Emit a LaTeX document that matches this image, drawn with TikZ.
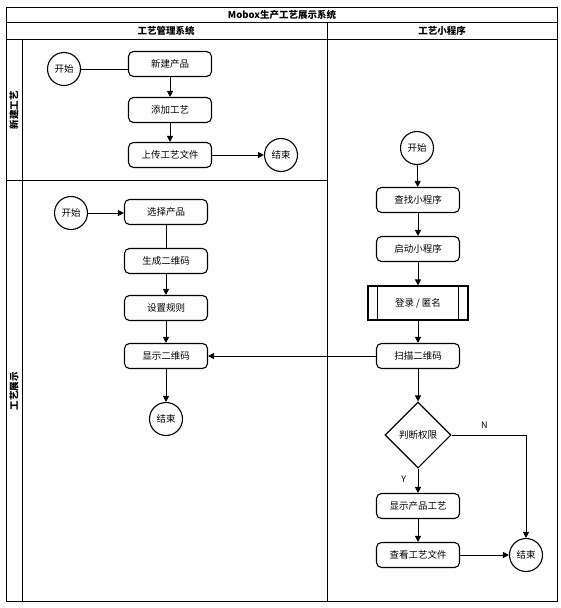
\documentclass[tikz,border=0pt]{standalone}
\usepackage{fontspec}
\setmainfont{Noto Sans CJK SC}
\usetikzlibrary{arrows.meta,shapes.geometric}
\begin{document}
\begin{tikzpicture}[x=1pt,y=-1pt,
  box/.style={draw,rounded corners=5pt,line width=1.1pt,minimum width=83pt,minimum height=25pt,inner sep=0pt,font=\fontsize{9.5}{10}\selectfont},
  term/.style={draw,circle,line width=1.1pt,minimum size=33pt,inner sep=0pt,font=\fontsize{9.5}{10}\selectfont},
  arr/.style={-{Triangle[length=6pt,width=6pt]},line width=0.8pt},
  lane/.style={line width=0.8pt},
  head/.style={font=\bfseries\fontsize{9.5}{10}\selectfont}]
\useasboundingbox (0,0) rectangle (561,608);
% swimlanes
\draw[lane] (6,7) rectangle (557,601);
\draw[lane] (6,22) -- (557,22);
\draw[lane] (6,39) -- (557,39);
\draw[lane] (327,22) -- (327,601);
\draw[lane] (22,39) -- (22,601);
\draw[lane] (6,180) -- (327,180);
\node[head] (title) at (282,15) {Mobox生产工艺展示系统};
\node[head] (laneA) at (166,31) {工艺管理系统};
\node[head] (laneB) at (442,31) {工艺小程序};
\node[head,rotate=90] (rowA) at (14,110) {新建工艺};
\node[head,rotate=90] (rowB) at (14,391) {工艺展示};
% new process
\node[term] (startA) at (64,69) {开始};
\node[box] (newprod) at (170,64) {新建产品};
\node[box] (addproc) at (170,110) {添加工艺};
\node[box] (upload) at (170,155) {上传工艺文件};
\node[term] (endA) at (281,155) {结束};
\draw[line width=0.8pt] (startA) -- (startA -| newprod.west);
\draw[arr] (newprod) -- (addproc);
\draw[arr] (addproc) -- (upload);
\draw[arr] (upload) -- (endA);
% show process
\node[term] (startB) at (71,213) {开始};
\node[box] (choose) at (166,212) {选择产品};
\node[box] (gencode) at (166,261) {生成二维码};
\node[box] (rules) at (166,308) {设置规则};
\node[box] (showcode) at (166,356) {显示二维码};
\node[term] (endB) at (166,419) {结束};
\draw[arr] (startB) -- (startB -| choose.west);
\draw[line width=0.8pt] (choose) -- (gencode);
\draw[arr] (gencode) -- (rules);
\draw[arr] (rules) -- (showcode);
\draw[arr] (showcode) -- (endB);
% mini program
\node[term] (startC) at (417,148) {开始};
\node[box] (find) at (418,200) {查找小程序};
\node[box] (launch) at (418,249) {启动小程序};
\node[draw,line width=1.1pt,minimum width=100pt,minimum height=34pt,font=\fontsize{9.5}{10}\selectfont] (login) at (418,303) {登录 / 匿名};
\draw[line width=0.8pt] ([xshift=10pt]login.north west) -- ([xshift=10pt]login.south west);
\draw[line width=0.8pt] ([xshift=-10pt]login.north east) -- ([xshift=-10pt]login.south east);
\node[box] (scan) at (418,356) {扫描二维码};
\node[draw,diamond,aspect=1,line width=1.1pt,minimum width=66pt,minimum height=66pt,inner sep=0pt,font=\fontsize{9.5}{10}\selectfont] (check) at (418,435) {判断权限};
\node[box] (showproc) at (418,506) {显示产品工艺};
\node[box] (viewfile) at (418,555) {查看工艺文件};
\node[term] (endC) at (526,555) {结束};
\draw[arr] (startC) -- (find);
\draw[arr] (find) -- (launch);
\draw[arr] (launch) -- (login);
\draw[arr] (login) -- (scan);
\draw[arr] (scan) -- (check);
\draw[arr] (scan) -- (showcode);
\draw[arr] (check) -- node[pos=0.45,left=8pt,font=\fontsize{9}{10}\selectfont] {Y} (showproc);
\draw[arr] (check.east) -| node[pos=0.22,above=3pt,font=\fontsize{9}{10}\selectfont] {N} (endC);
\draw[arr] (showproc) -- (viewfile);
\draw[arr] (viewfile) -- (endC);
\end{tikzpicture}
\end{document}
